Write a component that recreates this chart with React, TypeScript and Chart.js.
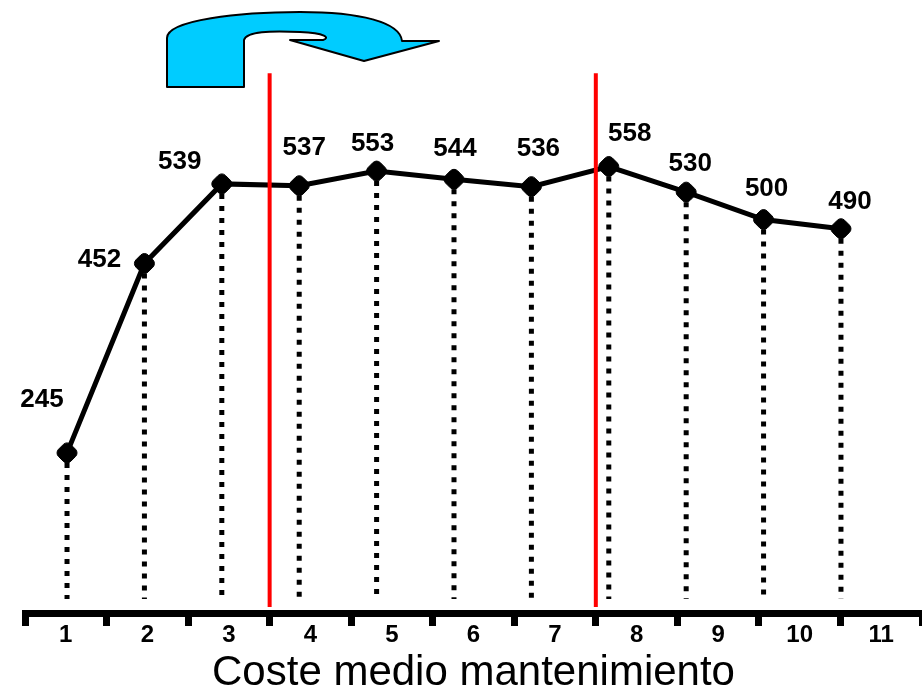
import React, { useEffect, useRef } from 'react';
import { Chart, registerables } from 'chart.js';

Chart.register(...registerables);

const categories = ['1', '2', '3', '4', '5', '6', '7', '8', '9', '10', '11'];
const values = [245, 452, 539, 537, 553, 544, 536, 558, 530, 500, 490];
const axisTitle = 'Coste medio mantenimiento';
// boundaries (between categories) where red separators are drawn
const separatorAfter = [3, 7];
// label offsets (style) relative to each point
const labelDx = [-25, -45, -42, 5, -4, 1, 7, 21, 4, 3, 9];
const labelDy = [-53, -4, -22, -38, -27, -30, -38, -33, -28, -31, -27];

const FONT = '"Liberation Sans", Arial, sans-serif';

const decorPlugin = {
  id: 'decor',
  beforeDatasetsDraw(chart: any) {
    const ctx = chart.ctx;
    const meta = chart.getDatasetMeta(0);
    const bottom = chart.chartArea.bottom;
    ctx.save();
    ctx.strokeStyle = '#000';
    ctx.lineWidth = 5;
    ctx.setLineDash([5, 7]);
    meta.data.forEach((pt: any) => {
      ctx.beginPath();
      ctx.moveTo(pt.x, pt.y + 10);
      ctx.lineTo(pt.x, bottom - 14);
      ctx.stroke();
    });
    ctx.restore();
  },
  afterDatasetsDraw(chart: any) {
    const ctx = chart.ctx;
    const meta = chart.getDatasetMeta(0);
    const x2 = chart.scales.x2;
    const y = chart.scales.y;
    const bottom = chart.chartArea.bottom;
    ctx.save();
    // red separators
    ctx.strokeStyle = '#FF0000';
    ctx.lineWidth = 4;
    separatorAfter.forEach((k) => {
      const px = (x2.getPixelForValue(k - 1) + x2.getPixelForValue(k)) / 2;
      ctx.beginPath();
      ctx.moveTo(px, y.getPixelForValue(660));
      ctx.lineTo(px, bottom - 6);
      ctx.stroke();
    });
    // data labels
    ctx.fillStyle = '#000';
    ctx.font = 'bold 26px ' + FONT;
    ctx.textAlign = 'center';
    ctx.textBaseline = 'middle';
    meta.data.forEach((pt: any, i: number) => {
      ctx.fillText(String(values[i]), pt.x + labelDx[i], pt.y + labelDy[i]);
    });
    // curved arrow decoration
    ctx.beginPath();
    ctx.moveTo(167, 87);
    ctx.lineTo(167, 38);
    ctx.bezierCurveTo(167, 20, 240, 12, 300, 12);
    ctx.bezierCurveTo(360, 12, 400, 22, 402, 41);
    ctx.lineTo(439, 41);
    ctx.lineTo(364, 61);
    ctx.lineTo(290, 40);
    ctx.lineTo(323, 40);
    ctx.bezierCurveTo(330, 38, 326, 33, 300, 32);
    ctx.bezierCurveTo(270, 31, 247, 31, 244, 40);
    ctx.lineTo(244, 87);
    ctx.closePath();
    ctx.fillStyle = '#00CCFF';
    ctx.fill();
    ctx.strokeStyle = '#000';
    ctx.lineWidth = 2;
    ctx.lineJoin = 'round';
    ctx.stroke();
    ctx.restore();
  },
};

export default function App() {
  const ref = useRef<HTMLCanvasElement>(null);
  useEffect(() => {
    if (!ref.current) return;
    const chart = new Chart(ref.current, {
      type: 'line',
      data: {
        datasets: [
          {
            data: values.map((v, i) => ({ x: i + 1, y: v })),
            borderColor: '#000',
            borderWidth: 5,
            backgroundColor: '#000',
            pointStyle: 'rectRounded',
            pointRotation: 45,
            pointRadius: 10,
            pointBorderWidth: 1,
            pointBackgroundColor: '#000',
            pointBorderColor: '#000',
            tension: 0,
            xAxisID: 'x',
            yAxisID: 'y',
          },
        ],
      },
      options: {
        responsive: false,
        animation: false,
        layout: { autoPadding: false, padding: { left: 25, right: 0, top: 0, bottom: 1.5 } },
        plugins: { legend: { display: false }, tooltip: { enabled: false }, title: { display: false } },
        scales: {
          x: { type: 'linear', display: false, min: 0.457, max: 12.047 },
          x2: {
            type: 'category',
            labels: categories,
            position: 'bottom',
            offset: true,
            grid: {
              display: true,
              drawOnChartArea: false,
              drawTicks: true,
              tickLength: 13,
              tickWidth: 7,
              tickColor: '#000',
              offset: true,
            },
            border: { display: true, width: 7, color: '#000' },
            ticks: {
              font: { family: FONT, size: 24, weight: 'bold' },
              color: '#000',
              padding: -5,
              autoSkip: false,
              maxRotation: 0,
            },
            title: {
              display: true,
              text: axisTitle,
              font: { family: FONT, size: 42, lineHeight: 1 },
              color: '#000',
              padding: { top: 7.7, bottom: 0 },
            },
          },
          y: { display: false, min: 70, max: 740 },
        },
      },
      plugins: [decorPlugin],
    } as any);
    return () => chart.destroy();
  }, []);
  return (
    <div style={{ position: 'absolute', left: 0, top: 0, width: 922, height: 696 }}>
      <canvas ref={ref} width={922} height={696} />
    </div>
  );
}
